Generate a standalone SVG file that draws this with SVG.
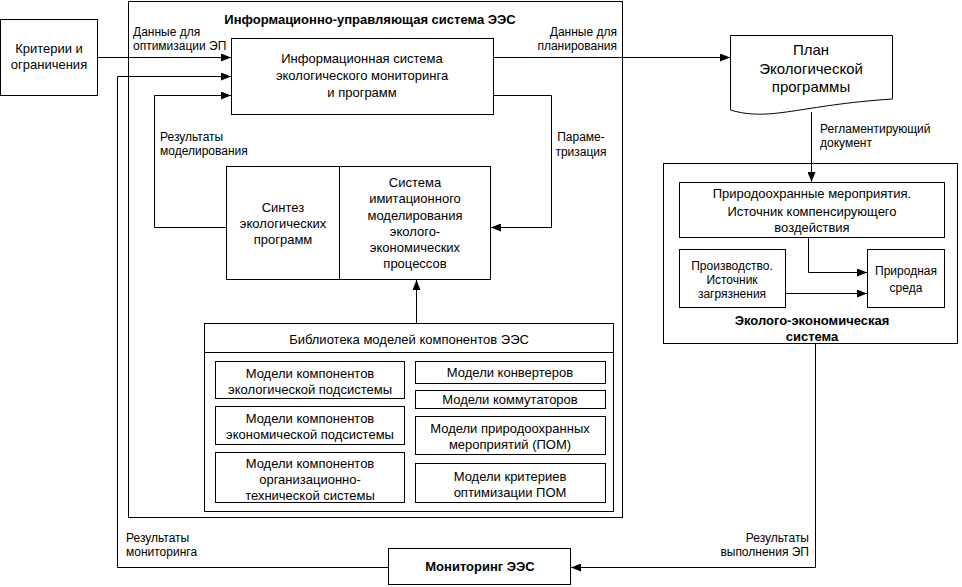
<svg xmlns="http://www.w3.org/2000/svg" width="962" height="587" viewBox="0 0 962 587">
<style>
rect,path.box{fill:#fff;stroke:#000;stroke-width:1}
.c{fill:none;stroke:#000;stroke-width:1}
text{font-family:"Liberation Sans",Arial,sans-serif;font-size:13px;fill:#000}
.m{text-anchor:middle}
.e{text-anchor:end}
.b{font-weight:bold}
.s{font-size:12px}
.l{font-size:15px}
</style>
<defs>
<marker id="a" viewBox="0 0 10 8" refX="10" refY="4" markerWidth="10" markerHeight="8" markerUnits="userSpaceOnUse" orient="auto">
<path d="M0,0 L10,4 L0,8 Z" fill="#000"/>
</marker>
</defs>
<g id="ius">
<rect x="128.5" y="1.5" width="494" height="516"/>
<text class="m b" x="370" y="24">Информационно-управляющая система ЭЭС</text>
</g>
<g id="criteria">
<rect x="0.5" y="19.5" width="97" height="76"/>
<text class="m" x="49" y="53">Критерии и</text>
<text class="m" x="49" y="69">ограничения</text>
</g>
<g id="is">
<rect x="231.5" y="38.5" width="262" height="76"/>
<text class="m" x="362" y="63">Информационная система</text>
<text class="m" x="362" y="80">экологического мониторинга</text>
<text class="m" x="362" y="97">и программ</text>
</g>
<g id="synth">
<rect x="226.5" y="166.5" width="113" height="113"/>
<text class="m" x="283" y="212">Синтез</text>
<text class="m" x="283" y="228">экологических</text>
<text class="m" x="283" y="244">программ</text>
</g>
<g id="sim">
<rect x="339.5" y="166.5" width="151" height="113"/>
<text class="m" x="415" y="187">Система</text>
<text class="m" x="415" y="203">имитационного</text>
<text class="m" x="415" y="220">моделирования</text>
<text class="m" x="415" y="236">эколого-</text>
<text class="m" x="415" y="252">экономических</text>
<text class="m" x="415" y="268">процессов</text>
</g>
<g id="library">
<rect x="204.5" y="323.5" width="409" height="188"/>
<path class="c" d="M204.5,352.5 H613.5"/>
<text class="m" x="409" y="344">Библиотека моделей компонентов ЭЭС</text>
</g>
<g id="m-eco">
<rect x="215.5" y="361.5" width="189" height="37"/>
<text class="m" x="310" y="378">Модели компонентов</text>
<text class="m" x="310" y="394">экологической подсистемы</text>
</g>
<g id="m-econ">
<rect x="215.5" y="406.5" width="189" height="38"/>
<text class="m" x="310" y="423">Модели компонентов</text>
<text class="m" x="310" y="439">экономической подсистемы</text>
</g>
<g id="m-org">
<rect x="215.5" y="452.5" width="189" height="50"/>
<text class="m" x="310" y="468">Модели компонентов</text>
<text class="m" x="310" y="484">организационно-</text>
<text class="m" x="310" y="500">технической системы</text>
</g>
<g id="m-conv">
<rect x="415.5" y="361.5" width="190" height="22"/>
<text class="m" x="510" y="377">Модели конвертеров</text>
</g>
<g id="m-comm">
<rect x="415.5" y="390.5" width="190" height="18"/>
<text class="m" x="510" y="404">Модели коммутаторов</text>
</g>
<g id="m-pom">
<rect x="415.5" y="416.5" width="190" height="38"/>
<text class="m" x="510" y="433">Модели природоохранных</text>
<text class="m" x="510" y="449">мероприятий (ПОМ)</text>
</g>
<g id="m-crit">
<rect x="415.5" y="463.5" width="190" height="39"/>
<text class="m" x="510" y="481">Модели критериев</text>
<text class="m" x="510" y="497">оптимизации ПОМ</text>
</g>
<g id="plan">
<path class="box" d="M730.5,35.5 H892.5 V99 C800,105 770,122 730.5,110 Z"/>
<text class="m l" x="811" y="55">План</text>
<text class="m l" x="811" y="74">Экологической</text>
<text class="m l" x="811" y="92">программы</text>
</g>
<g id="ees">
<rect x="663.5" y="163.5" width="294" height="180"/>
<text class="m b" x="812" y="325">Эколого-экономическая</text>
<text class="m b" x="812" y="341">система</text>
</g>
<g id="pom">
<rect x="679.5" y="182.5" width="265" height="55"/>
<text class="m" x="812" y="198">Природоохранные мероприятия.</text>
<text class="m" x="812" y="216">Источник компенсирующего</text>
<text class="m" x="812" y="232">воздействия</text>
</g>
<g id="prod">
<rect x="679.5" y="249.5" width="106" height="58"/>
<text class="m s" x="732" y="270">Производство.</text>
<text class="m s" x="732" y="284">Источник</text>
<text class="m s" x="732" y="298">загрязнения</text>
</g>
<g id="nature">
<rect x="867.5" y="249.5" width="77" height="58"/>
<text class="m s" x="906" y="275">Природная</text>
<text class="m s" x="906" y="292">среда</text>
</g>
<g id="monitor">
<rect x="388.5" y="548.5" width="182" height="36"/>
<text class="m b" x="480" y="571">Мониторинг ЭЭС</text>
</g>
<g id="connectors">
<path class="c" d="M98,57.5 H231" marker-end="url(#a)"/>
<path class="c" d="M494,57.5 H730" marker-end="url(#a)"/>
<path class="c" d="M117.5,567.5 V76.5 H231" marker-end="url(#a)"/>
<path class="c" d="M226,227.5 H154.5 V95.5 H231" marker-end="url(#a)"/>
<path class="c" d="M494,95.5 H551.5 V227.5 H491" marker-end="url(#a)"/>
<path class="c" d="M416.5,323 V280" marker-end="url(#a)"/>
<path class="c" d="M811.5,112 V182" marker-end="url(#a)"/>
<path class="c" d="M808.5,238 V272.5 H867" marker-end="url(#a)"/>
<path class="c" d="M786,293.5 H867" marker-end="url(#a)"/>
<path class="c" d="M815.5,344 V567.5 H571" marker-end="url(#a)"/>
<path class="c" d="M388,567.5 H117.5"/>
<text class="s" x="133" y="36">Данные для</text>
<text class="s" x="133" y="50">оптимизации ЭП</text>
<text class="s e" x="617" y="36">Данные для</text>
<text class="s e" x="617" y="50">планирования</text>
<text class="s" x="160" y="141">Результаты</text>
<text class="s" x="160" y="155">моделирования</text>
<text class="s m" x="581" y="141">Параме-</text>
<text class="s m" x="581" y="156">тризация</text>
<text class="s" x="820" y="133">Регламентирующий</text>
<text class="s" x="820" y="147">документ</text>
<text class="s" x="126" y="542">Результаты</text>
<text class="s" x="126" y="556">мониторинга</text>
<text class="s e" x="809" y="542">Результаты</text>
<text class="s e" x="809" y="556">выполнения ЭП</text>
</g>
</svg>
